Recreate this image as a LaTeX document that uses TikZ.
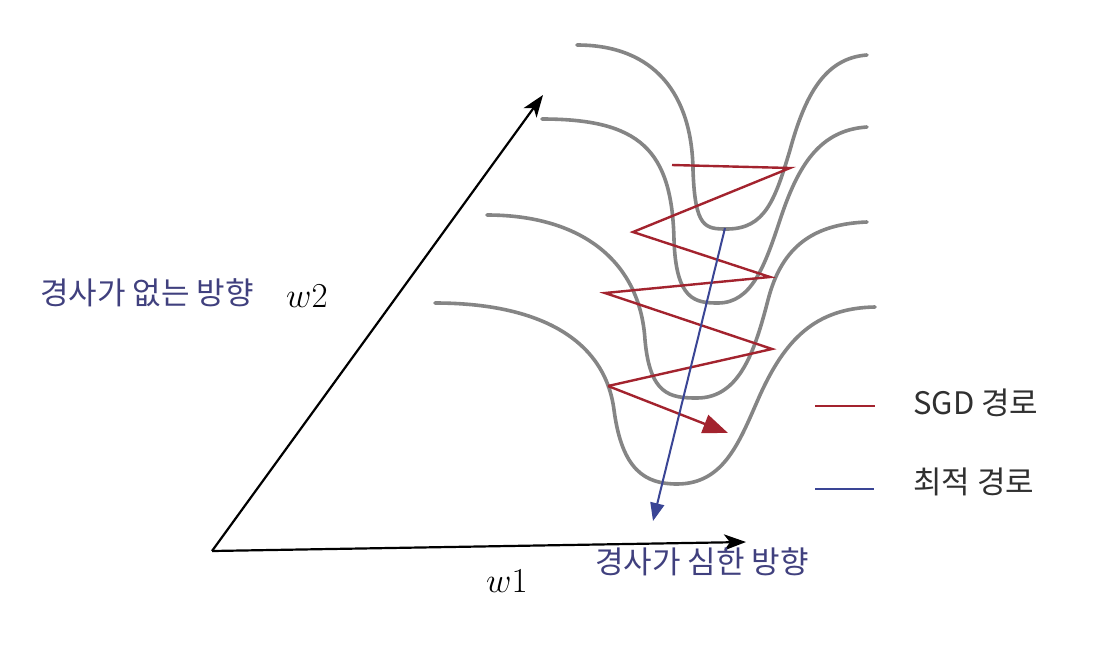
\RequirePackage{fix-cm}
\documentclass[tikz,border=0pt]{standalone}
\usepackage{fontspec}
\newfontfamily\kr{Noto Sans CJK KR}
\usetikzlibrary{arrows.meta}
\definecolor{cgray}{HTML}{858585}
\definecolor{sgdred}{HTML}{A3232E}
\definecolor{optblue}{HTML}{3A4595}
\definecolor{lblue}{HTML}{40407E}
\definecolor{ltext}{HTML}{303030}
\begin{document}
\begin{tikzpicture}[x=1pt,y=-1pt,
  contour/.style={draw=cgray,line width=3.6pt,line cap=round},
  axis/.style={draw=black,line width=2.2pt,-{Stealth[length=22pt,width=16pt,inset=6pt]}},
  sgd/.style={draw=sgdred,line width=2.4pt,line join=miter},
  opt/.style={draw=optblue,line width=2pt},
  krlabel/.style={font=\kr\fontsize{31}{34}\selectfont,text=lblue,inner sep=0pt,anchor=base west},
  legtext/.style={font=\kr\fontsize{31}{34}\selectfont,text=ltext,inner sep=0pt,anchor=base west},
  mathlabel/.style={font=\fontsize{35}{40}\selectfont,inner sep=0pt,anchor=base west}]
\useasboundingbox[fill=white] (0,0) rectangle (1110,662);

% contour lines
\draw[contour] (577,45) .. controls (655,45) and (692,95) .. (693,170)
  .. controls (695,228) and (705,229) .. (727,229)
  .. controls (765,229) and (775,200) .. (790,150)
  .. controls (805,95) and (825,58) .. (867,55);
\draw[contour] (542,119) .. controls (640,119) and (672,150) .. (674,240)
  .. controls (676,300) and (695,303) .. (718,303)
  .. controls (752,303) and (765,265) .. (780,220)
  .. controls (798,165) and (820,130) .. (867,127);
\draw[contour] (487,215) .. controls (580,215) and (640,260) .. (645,340)
  .. controls (650,395) and (670,398) .. (697,398)
  .. controls (740,398) and (755,350) .. (768,300)
  .. controls (782,245) and (815,224) .. (867,222);
\draw[contour] (435,303) .. controls (540,303) and (605,340) .. (614,410)
  .. controls (622,470) and (645,484) .. (677,484)
  .. controls (725,484) and (740,440) .. (760,395)
  .. controls (785,340) and (815,308) .. (875,307);

% axes
\coordinate (O) at (212,551);
\coordinate (w1tip) at (746,542);
\coordinate (w2tip) at (543,95);
\draw[axis] (O) -- (w1tip);
\draw[axis] (O) -- (w2tip);

% SGD path
\coordinate (p0) at (672,165);
\coordinate (p1) at (790,168);
\coordinate (p2) at (633,232);
\coordinate (p3) at (770,277);
\coordinate (p4) at (605,293);
\coordinate (p5) at (772,349);
\coordinate (p6) at (608,386);
\coordinate (p7) at (728,433);
\draw[sgd] (p0) -- (p1) -- (p2) -- (p3) -- (p4) -- (p5) -- (p6);
\draw[sgd,-{Triangle[length=25pt,width=19pt]}] (p6) -- (p7);

% optimal path
\coordinate (q0) at (725,228);
\coordinate (q1) at (653,521);
\draw[opt,-{Triangle[length=18pt,width=14pt]}] (q0) -- (q1);

% labels
\node[krlabel] (lflat) at (40,304) {경사가 없는 방향};
\node[mathlabel] (lw2) at (286,307) {$w2$};
\node[mathlabel] (lw1) at (486,592) {$w1$};
\node[krlabel] (lsteep) at (595,573) {경사가 심한 방향};

% legend
\coordinate (r0) at (815,406);
\coordinate (r1) at (875,406);
\coordinate (b0) at (815,489);
\coordinate (b1) at (874,489);
\draw[sgd] (r0) -- (r1);
\draw[opt] (b0) -- (b1);
\node[legtext] (lsgd) at (913,414) {SGD 경로};
\node[legtext] (lopt) at (913,493) {최적 경로};
\end{tikzpicture}
\end{document}
